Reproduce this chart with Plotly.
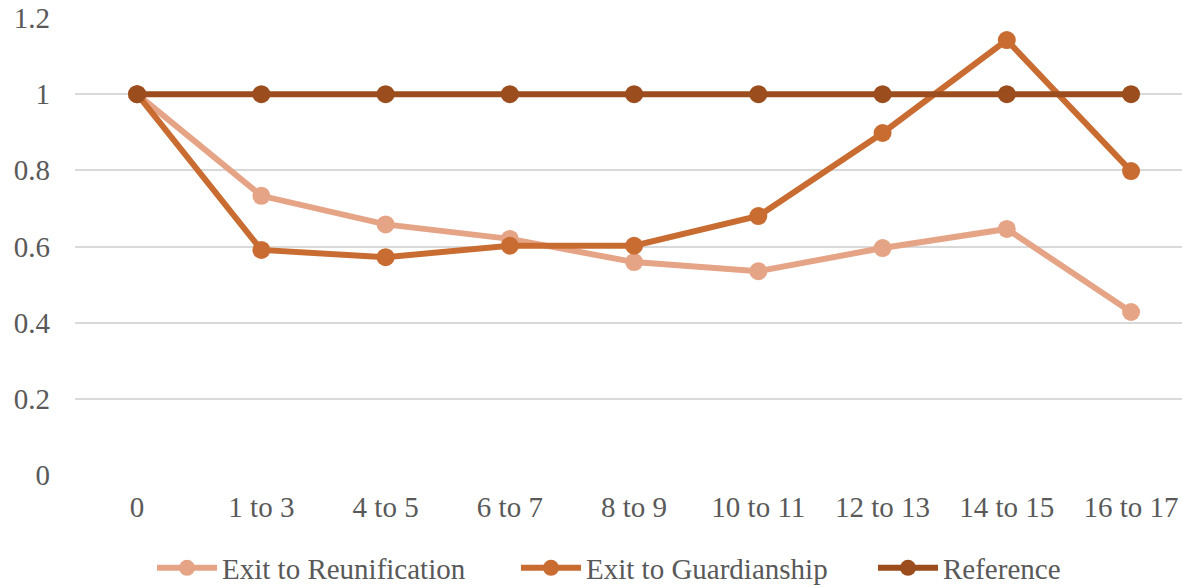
import plotly.graph_objects as go

categories = ["0", "1 to 3", "4 to 5", "6 to 7", "8 to 9", "10 to 11", "12 to 13", "14 to 15", "16 to 17"]
reunification = [1.0, 0.733, 0.658, 0.620, 0.559, 0.535, 0.596, 0.646, 0.428]
guardianship = [1.0, 0.591, 0.572, 0.602, 0.602, 0.680, 0.898, 1.142, 0.798]
reference = [1.0, 1.0, 1.0, 1.0, 1.0, 1.0, 1.0, 1.0, 1.0]

series = [
    ("Exit to Reunification", reunification, "#E6A487", "legend"),
    ("Exit to Guardianship", guardianship, "#C96C31", "legend2"),
    ("Reference", reference, "#9C4D1E", "legend3"),
]

FONT = "Liberation Serif"
FS = 29
GREY = "#595959"

fig = go.Figure()
for name, vals, color, lg in series:
    fig.add_trace(go.Scatter(
        x=categories, y=vals, name=name, mode="lines+markers",
        line=dict(color=color, width=6),
        marker=dict(color=color, size=18),
        legend=lg,
    ))

def legend_at(xpx):
    return dict(
        orientation="h", xref="container", yref="container",
        x=xpx / 1182, xanchor="left", y=19 / 587, yanchor="middle",
        font=dict(family=FONT, size=FS, color=GREY),
        itemsizing="trace", itemwidth=60,
        bgcolor="rgba(0,0,0,0)",
    )

fig.update_layout(
    width=1182, height=587,
    margin=dict(l=75, r=0, t=18, b=112),
    paper_bgcolor="white", plot_bgcolor="white",
    font=dict(family=FONT, size=FS, color=GREY),
    showlegend=True,
    legend=legend_at(152),
    legend2=legend_at(516),
    legend3=legend_at(873),
    xaxis=dict(
        type="category", range=[-0.5, 8.41],
        showgrid=False, showline=False, zeroline=False,
        ticks="", ticklabelstandoff=12,
        tickfont=dict(family=FONT, size=FS, color=GREY),
    ),
    yaxis=dict(
        range=[0, 1.2], tickvals=[0, 0.2, 0.4, 0.6, 0.8, 1, 1.2],
        ticktext=["0", "0.2", "0.4", "0.6", "0.8", "1", "1.2"],
        showgrid=True, gridcolor="#D9D9D9", gridwidth=2,
        zeroline=False, showline=False, ticks="", ticklabelstandoff=24,
        tickfont=dict(family=FONT, size=FS, color=GREY),
    ),
)

fig.write_html("out.html", config={"displayModeBar": False},
               post_script="document.body.style.margin='0px';")
